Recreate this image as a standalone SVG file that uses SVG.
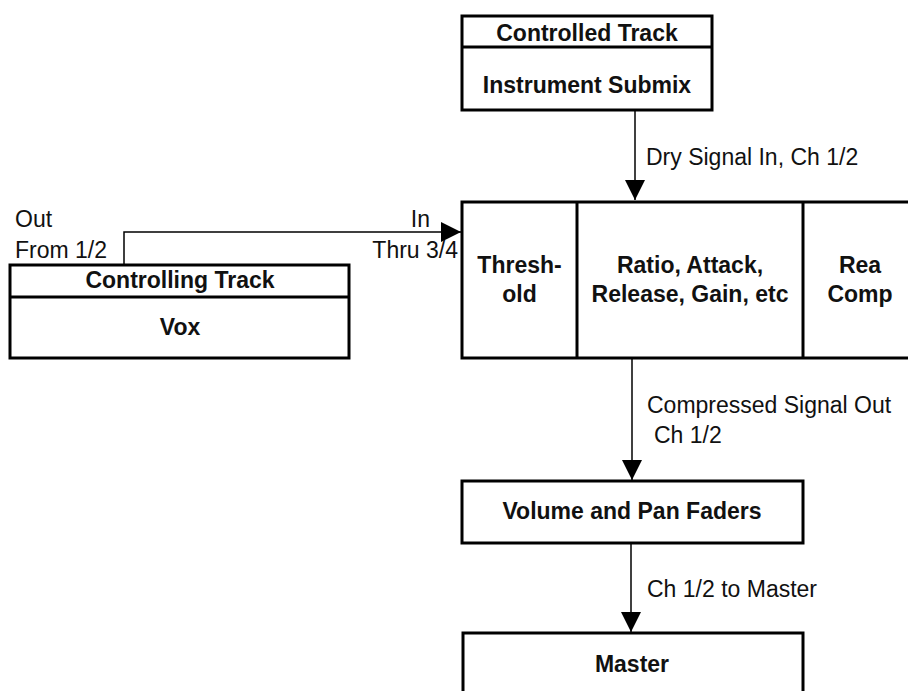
<svg xmlns="http://www.w3.org/2000/svg" width="908" height="691" viewBox="0 0 908 691">
<style>
.box{fill:#fff;stroke:#000;stroke-width:3}
.div{stroke:#000;stroke-width:3}
.t{font-family:"Liberation Sans",Arial,sans-serif;font-weight:bold;font-size:23px;text-anchor:middle;fill:#111}
.l{font-family:"Liberation Sans",Arial,sans-serif;font-size:23px;fill:#111}
.c{fill:none;stroke:#000;stroke-width:1.5}
</style>
<defs>
<marker id="ah" viewBox="0 0 20 20" refX="20" refY="10" markerWidth="20" markerHeight="20" markerUnits="userSpaceOnUse" orient="auto">
<path d="M0,0 L20,10 L0,20 Z" fill="#000"/>
</marker>
</defs>
<rect width="908" height="691" fill="#fff"/>
<g id="controlled-track">
<rect class="box" x="462" y="16" width="250" height="94"/>
<line class="div" x1="462" y1="47" x2="712" y2="47"/>
<text class="t" x="587" y="41">Controlled Track</text>
<text class="t" x="587" y="93">Instrument Submix</text>
</g>
<g id="controlling-track">
<rect class="box" x="10" y="265" width="339" height="93"/>
<line class="div" x1="10" y1="297" x2="349" y2="297"/>
<text class="t" x="180" y="288">Controlling Track</text>
<text class="t" x="180" y="335">Vox</text>
</g>
<g id="reacomp">
<rect class="box" x="462" y="202" width="460" height="156"/>
<line class="div" x1="577" y1="202" x2="577" y2="358"/>
<line class="div" x1="803" y1="202" x2="803" y2="358"/>
<text class="t" x="519.5" y="273">Thresh-</text>
<text class="t" x="519.5" y="302">old</text>
<text class="t" x="690" y="273">Ratio, Attack,</text>
<text class="t" x="690" y="302">Release, Gain, etc</text>
<text class="t" x="860" y="273">Rea</text>
<text class="t" x="860" y="302">Comp</text>
</g>
<g id="faders">
<rect class="box" x="462" y="481" width="341" height="62"/>
<text class="t" x="632" y="519">Volume and Pan Faders</text>
</g>
<g id="master">
<rect class="box" x="463" y="633" width="340" height="70"/>
<text class="t" x="632" y="672">Master</text>
</g>
<g id="connectors">
<path class="c" d="M635,110 V200" marker-end="url(#ah)"/>
<path class="c" d="M124,265 V232 H461" marker-end="url(#ah)"/>
<path class="c" d="M632,358 V480" marker-end="url(#ah)"/>
<path class="c" d="M631,543 V632" marker-end="url(#ah)"/>
</g>
<g id="labels">
<text class="l" x="646" y="165">Dry Signal In, Ch 1/2</text>
<text class="l" x="15" y="227">Out</text>
<text class="l" x="15" y="258">From 1/2</text>
<text class="l" x="430" y="227" text-anchor="end">In</text>
<text class="l" x="458" y="258" text-anchor="end">Thru 3/4</text>
<text class="l" x="647" y="413">Compressed Signal Out</text>
<text class="l" x="654" y="443">Ch 1/2</text>
<text class="l" x="647" y="597">Ch 1/2 to Master</text>
</g>
</svg>
